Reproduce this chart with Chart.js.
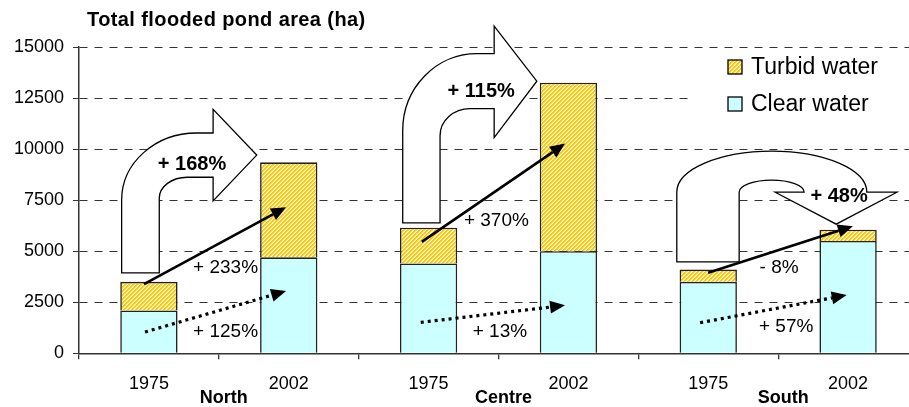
<!DOCTYPE html>
<html>
<head>
<meta charset="utf-8">
<script src="https://cdn.jsdelivr.net/npm/chart.js@4.4.1/dist/chart.umd.min.js"></script>
<style>
  html, body { margin: 0; padding: 0; background: #fff; overflow: hidden; width: 909px; height: 407px; }
  #wrap { width: 918px; height: 407px; }
</style>
</head>
<body>
<div id="wrap"><canvas id="chart" width="918" height="407"></canvas></div>
<script>
// data
const years = ['1975', '2002', '1975', '2002', '1975', '2002'];
const regions = ['North', 'Centre', 'South'];
const clearWater  = [2100, 4700, 4400, 5000, 3500, 5500];
const turbidWater = [1400, 4650, 1750, 8250, 600, 550];
const yTicks = [0, 2500, 5000, 7500, 10000, 12500, 15000];
const totalChange  = ['+ 168%', '+ 115%', '+ 48%'];
const turbidChange = ['+ 233%', '+ 370%', '- 8%'];
const clearChange  = ['+ 125%', '+ 13%', '+ 57%'];

const FONT = '"Liberation Sans", Arial, sans-serif';
Chart.defaults.font.family = FONT;
Chart.defaults.color = '#000';

function makeHatch() {
  const c = document.createElement('canvas');
  c.width = 4; c.height = 4;
  const g = c.getContext('2d');
  g.fillStyle = '#fff';
  g.fillRect(0, 0, 4, 4);
  for (let x = 0; x < 4; x++)
    for (let y = 0; y < 4; y++) {
      const k = (x + y) % 4;
      if (k < 2) { g.fillStyle = '#FFC800'; g.fillRect(x, y, 1, 1); }
      else if (k === 2) { g.fillStyle = '#FFE47A'; g.fillRect(x, y, 1, 1); }
    }
  return g.createPattern(c, 'repeat');
}
const hatch = makeHatch();

// annotation layout, in category index / hectare units
const bends = [
  { stem: [-0.195, 0.074], base: 3942, shaft: [10789, 8622], headX: 0.459, head: [11948, 7463], tipX: 0.771, outer: [75, 67], inner: [28, 21] },
  { stem: [1.815, 2.082], base: 6387, shaft: [14672, 11982], headX: 2.469, head: [16022, 10564], tipX: 2.774, outer: [74, 77], inner: [30, 27] }
];
const uturn = { stem: [3.775, 4.221], base: 4480, outerR: 5.134, innerR: 4.686, headY: 7889, head: [4.479, 5.349], tip: [4.915, 6324], outerRy: 41, innerRy: 12 };
const turbidArrows = [[-0.035, 3389, 0.981, 7155], [1.951, 5458, 2.976, 10270], [3.999, 3942, 5.034, 6226]];
const clearArrows  = [[-0.028, 1042, 0.981, 3047], [1.944, 1516, 2.976, 2348], [3.942, 1497, 4.99, 2851]];
const totalPos  = [[0.308, 9252], [2.376, 12843], [4.936, 7659]];
const turbidPos = [[0.548, 4172], [2.485, 6470], [4.507, 4186]];
const clearPos  = [[0.548, 1042], [2.51, 1042], [4.557, 1301]];

function arrow(ctx, x1, y1, x2, y2, dotted) {
  const a = Math.atan2(y2 - y1, x2 - x1);
  const hl = 15, hw = 6.5;
  const bx = x2 - hl * Math.cos(a), by = y2 - hl * Math.sin(a);
  ctx.save();
  ctx.strokeStyle = '#000';
  ctx.fillStyle = '#000';
  ctx.lineWidth = dotted ? 3.2 : 2.6;
  ctx.setLineDash(dotted ? [3, 4] : []);
  ctx.beginPath();
  ctx.moveTo(x1, y1);
  ctx.lineTo(bx, by);
  ctx.stroke();
  ctx.setLineDash([]);
  ctx.beginPath();
  ctx.moveTo(x2, y2);
  ctx.lineTo(bx - hw * Math.sin(a), by + hw * Math.cos(a));
  ctx.lineTo(bx + hw * Math.sin(a), by - hw * Math.cos(a));
  ctx.closePath();
  ctx.fill();
  ctx.restore();
}

function shapeStyle(ctx) {
  ctx.fillStyle = '#fff';
  ctx.strokeStyle = '#000';
  ctx.lineWidth = 1.3;
  ctx.setLineDash([]);
  ctx.fill();
  ctx.stroke();
}

const annotations = {
  id: 'annotations',
  beforeDatasetsDraw(chart) {
    const ctx = chart.ctx;
    const X = chart.scales.x, Y = chart.scales.y;
    const px = v => X.getPixelForValue(v), py = v => Y.getPixelForValue(v);
    ctx.save();

    // legend box hides the grid behind it
    ctx.fillStyle = '#fff';
    ctx.fillRect(693, 52, 230, 72);

    bends.forEach(b => {
      const sl = px(b.stem[0]), sr = px(b.stem[1]), base = py(b.base);
      const st = py(b.shaft[0]), sb = py(b.shaft[1]);
      const hx = px(b.headX), ht = py(b.head[0]), hb = py(b.head[1]);
      const tx = px(b.tipX), ty = (st + sb) / 2;
      ctx.beginPath();
      ctx.moveTo(sl, base);
      ctx.lineTo(sl, st + b.outer[1]);
      ctx.ellipse(sl + b.outer[0], st + b.outer[1], b.outer[0], b.outer[1], 0, Math.PI, 1.5 * Math.PI, false);
      ctx.lineTo(hx, st);
      ctx.lineTo(hx, ht);
      ctx.lineTo(tx, ty);
      ctx.lineTo(hx, hb);
      ctx.lineTo(hx, sb);
      ctx.lineTo(sr + b.inner[0], sb);
      ctx.ellipse(sr + b.inner[0], sb + b.inner[1], b.inner[0], b.inner[1], 0, 1.5 * Math.PI, Math.PI, true);
      ctx.lineTo(sr, base);
      ctx.closePath();
      shapeStyle(ctx);
    });

    const u = uturn;
    const sl = px(u.stem[0]), sr = px(u.stem[1]), base = py(u.base);
    const orx = px(u.outerR), irx = px(u.innerR), hy = py(u.headY);
    const ocx = (sl + orx) / 2, icx = (sr + irx) / 2;
    ctx.beginPath();
    ctx.moveTo(sl, base);
    ctx.lineTo(sl, hy);
    ctx.ellipse(ocx, hy, (orx - sl) / 2, u.outerRy, 0, Math.PI, 2 * Math.PI, false);
    ctx.lineTo(px(u.head[1]), hy);
    ctx.lineTo(px(u.tip[0]), py(u.tip[1]));
    ctx.lineTo(px(u.head[0]), hy);
    ctx.lineTo(irx, hy);
    ctx.ellipse(icx, hy, (irx - sr) / 2, u.innerRy, 0, 0, Math.PI, true);
    ctx.lineTo(sr, base);
    ctx.closePath();
    shapeStyle(ctx);
    ctx.restore();
  },
  afterDatasetsDraw(chart) {
    const ctx = chart.ctx;
    const X = chart.scales.x, Y = chart.scales.y;
    const px = v => X.getPixelForValue(v), py = v => Y.getPixelForValue(v);
    turbidArrows.forEach(a => arrow(ctx, px(a[0]), py(a[1]), px(a[2]), py(a[3]), false));
    clearArrows.forEach(a => arrow(ctx, px(a[0]), py(a[1]), px(a[2]), py(a[3]), true));

    ctx.save();
    ctx.fillStyle = '#000';
    ctx.textAlign = 'center';
    ctx.textBaseline = 'middle';
    ctx.font = 'bold 20px ' + FONT;
    totalChange.forEach((t, i) => ctx.fillText(t, px(totalPos[i][0]), py(totalPos[i][1])));
    ctx.font = '19px ' + FONT;
    turbidChange.forEach((t, i) => ctx.fillText(t, px(turbidPos[i][0]), py(turbidPos[i][1])));
    clearChange.forEach((t, i) => ctx.fillText(t, px(clearPos[i][0]), py(clearPos[i][1])));
    ctx.restore();
  },
  afterDraw(chart) {
    const ctx = chart.ctx;
    const X = chart.scales.x;
    ctx.save();
    ctx.fillStyle = '#000';
    ctx.textBaseline = 'middle';

    // title
    ctx.textAlign = 'left';
    ctx.font = 'bold 20px ' + FONT;
    ctx.letterSpacing = '0.4px';
    ctx.fillText('Total flooded pond area (ha)', 87, 20);
    ctx.letterSpacing = '0px';

    // region names under each pair of years
    ctx.textAlign = 'center';
    ctx.font = 'bold 18px ' + FONT;
    regions.forEach((r, i) => ctx.fillText(r, X.getPixelForValue(i * 2 + 0.5) + 5, 398));

    // legend
    const items = [
      { label: 'Turbid water', fill: hatch, y: 67 },
      { label: 'Clear water', fill: '#CCFFFF', y: 104 }
    ];
    ctx.textAlign = 'left';
    ctx.font = '23px ' + FONT;
    items.forEach(it => {
      ctx.fillStyle = it.fill;
      ctx.fillRect(728, it.y - 7, 14, 14);
      ctx.strokeStyle = '#000';
      ctx.lineWidth = 1.3;
      ctx.strokeRect(728, it.y - 7, 14, 14);
      ctx.fillStyle = '#000';
      ctx.fillText(it.label, 751, it.y + 1);
    });
    ctx.restore();
  }
};

new Chart(document.getElementById('chart'), {
  type: 'bar',
  data: {
    labels: years,
    datasets: [
      { label: 'Clear water', data: clearWater, backgroundColor: '#CCFFFF', borderColor: '#222', borderWidth: 1.6 },
      { label: 'Turbid water', data: turbidWater, backgroundColor: hatch, borderColor: '#222', borderWidth: 1.6 }
    ]
  },
  options: {
    responsive: false,
    animation: false,
    layout: { padding: { top: 47, left: 0, right: 0, bottom: 0 } },
    datasets: { bar: { categoryPercentage: 1, barPercentage: 0.41 } },
    plugins: { legend: { display: false }, tooltip: { enabled: false } },
    scales: {
      x: {
        stacked: true,
        offset: true,
        afterFit: s => { s.height = 53.7; },
        grid: { drawOnChartArea: false, offset: true, tickLength: 6, color: '#333', lineWidth: 1.3 },
        border: { color: '#333', width: 1.5 },
        ticks: { font: { size: 18 }, padding: 14, color: '#000' }
      },
      y: {
        stacked: true,
        min: 0,
        max: 15000,
        afterFit: s => { s.width = 79; },
        afterBuildTicks: s => { s.ticks = yTicks.map(v => ({ value: v })); },
        grid: { color: '#333', lineWidth: 1, tickLength: 6 },
        border: { color: '#333', width: 1.5, dash: [8, 7] },
        ticks: { font: { size: 18 }, padding: 9, color: '#000', callback: v => String(v) }
      }
    }
  },
  plugins: [annotations]
});
</script>
</body>
</html>
